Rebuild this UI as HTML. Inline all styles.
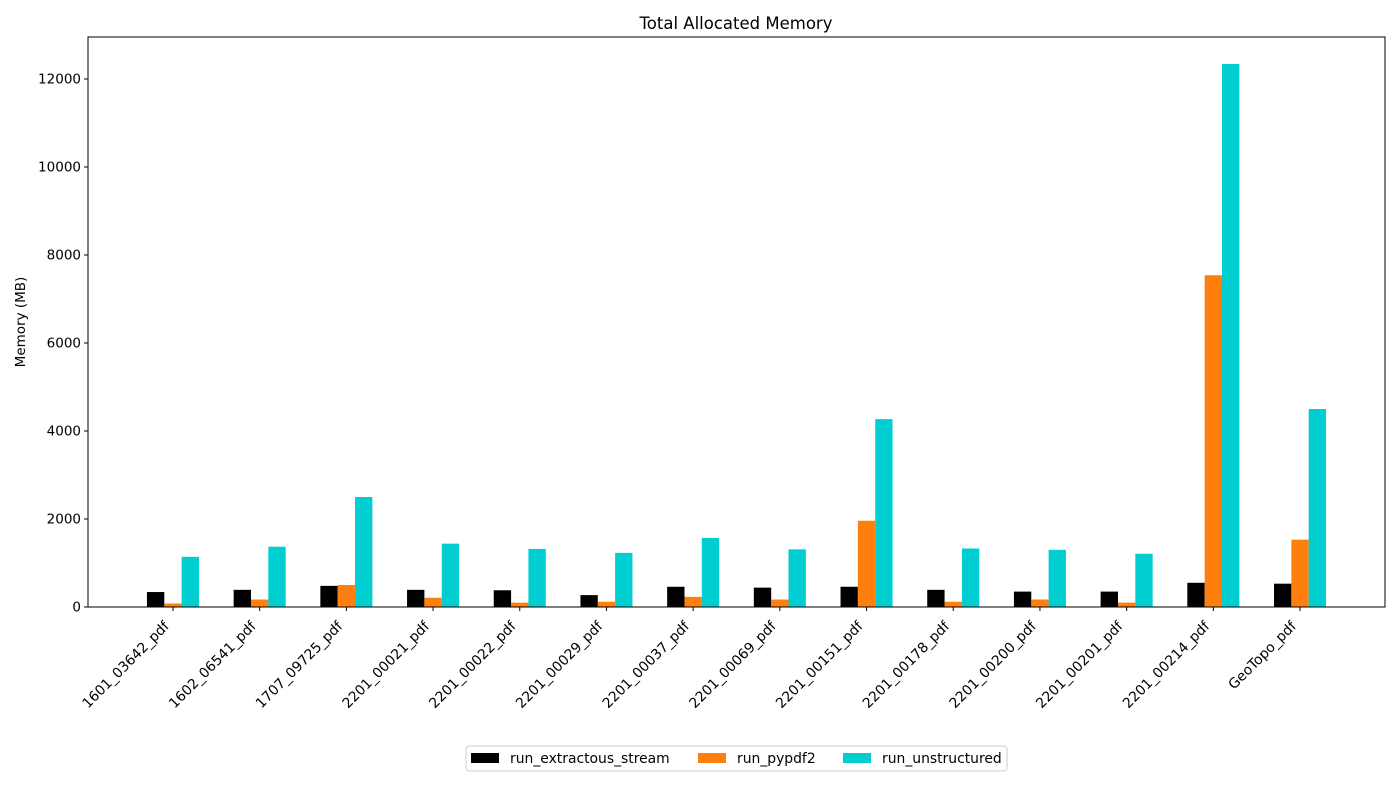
<!DOCTYPE html>
<html><head><meta charset="utf-8"><style>
body{margin:0;background:#fff;}
svg{display:block;font-family:"DejaVu Sans","Liberation Sans",sans-serif;}
</style></head><body>
<svg id="chart" width="1400" height="800"></svg>
<script>
const categories=["1601_03642_pdf","1602_06541_pdf","1707_09725_pdf","2201_00021_pdf","2201_00022_pdf","2201_00029_pdf","2201_00037_pdf","2201_00069_pdf","2201_00151_pdf","2201_00178_pdf","2201_00200_pdf","2201_00201_pdf","2201_00214_pdf","GeoTopo_pdf"];
const extractous=[340,390,480,390,380,270,460,440,460,390,350,350,550,530];
const pypdf2=[80,170,500,210,100,120,230,170,1960,120,170,100,7540,1530];
const unstructured=[1140,1370,2500,1440,1320,1230,1570,1310,4270,1330,1300,1210,12340,4500];
const yTicks=[0,2000,4000,6000,8000,10000,12000];
const seriesNames=["run_extractous_stream","run_pypdf2","run_unstructured"];
const colors=["#000000","#ff7f0e","#00ced1"];

const svg=document.getElementById('chart');
const NS="http://www.w3.org/2000/svg";
const L=88,R=1385,T=37,B=607;
const n=categories.length;
const xMin=-0.3-0.05*(n-1+0.6),xMax=n-1+0.3+0.05*(n-1+0.6);
const x=v=>L+(v-xMin)/(xMax-xMin)*(R-L);
const y=v=>B-v*(B-79)/12000;
function el(tag,attrs,parent){const e=document.createElementNS(NS,tag);for(const k in attrs)e.setAttribute(k,attrs[k]);(parent||svg).appendChild(e);return e;}

const title=el('text',{x:736,y:29,'text-anchor':'middle','font-size':16.5});
title.textContent="Total Allocated Memory";



const series=[extractous,pypdf2,unstructured];
const bw=0.2;
series.forEach((vals,s)=>{
  vals.forEach((v,i)=>{
    const cx=i+(s-1)*bw;
    const r=el('rect',{x:x(cx-bw/2),y:y(v),width:x(cx+bw/2)-x(cx-bw/2),height:B-y(v),fill:colors[s]});
    
    
  });
});

const frame=el('rect',{x:L,y:T,width:R-L,height:B-T,fill:'none',stroke:'#000','stroke-width':1});



yTicks.forEach(t=>{
  el('line',{x1:L-4,x2:L,y1:y(t),y2:y(t),stroke:'#000'});
  const tx=el('text',{x:L-7,y:y(t)+4.5,'text-anchor':'end','font-size':13.5});
  tx.textContent=t;
  
  
});
const yl=el('text',{x:0,y:0,'text-anchor':'middle','font-size':13.5,transform:'translate(25,322) rotate(-90)'});
yl.textContent="Memory (MB)";



categories.forEach((c,i)=>{
  const px=x(i);
  el('line',{x1:px,x2:px,y1:B,y2:B+4,stroke:'#000'});
  const tx=el('text',{x:0,y:0,'text-anchor':'end','font-size':13.9,transform:`translate(${px-3},${B+20}) rotate(-45)`});
  tx.textContent=c;
  
  
});

const lg=el('g',{});


el('rect',{x:466,y:746,width:541,height:25,rx:3,fill:'#fff',stroke:'#ccc'},lg);
const lx=[471,698,843];
seriesNames.forEach((nm,s)=>{
  const sw=el('rect',{x:lx[s],y:753,width:28,height:10,fill:colors[s]},lg);
  
  
  const t=el('text',{x:lx[s]+39,y:763,'font-size':13.9},lg);
  t.textContent=nm;
  
  
});
</script>
</body></html>
